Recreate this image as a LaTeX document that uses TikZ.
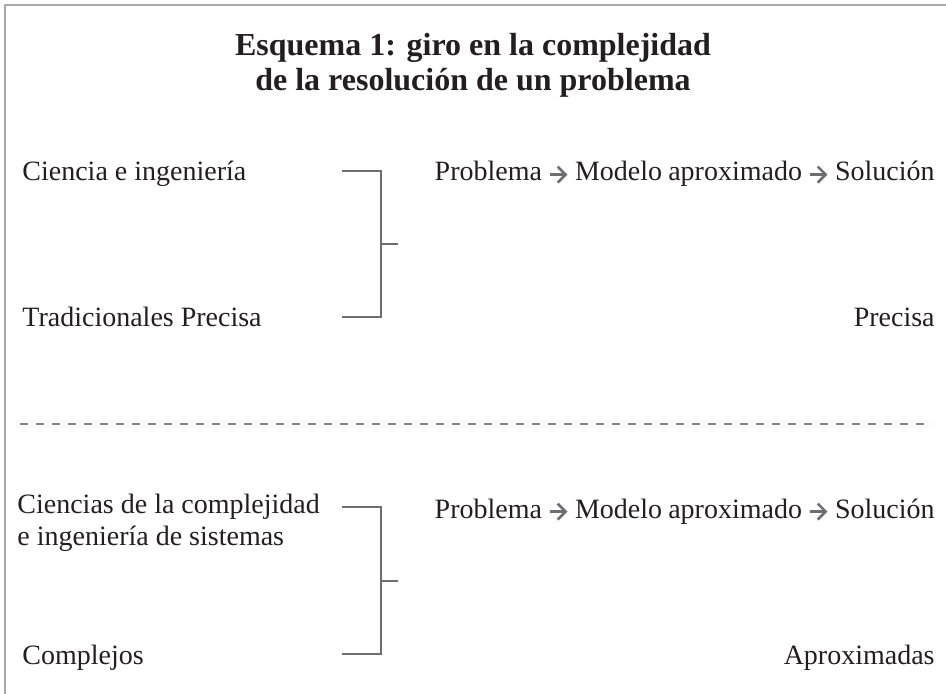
\documentclass[tikz,border=0pt]{standalone}
\usepackage{fontspec}
\setmainfont{Liberation Serif}
\usetikzlibrary{arrows.meta}

\definecolor{framegray}{HTML}{A7A9AC}
\definecolor{bracketgray}{HTML}{6D6E71}
\definecolor{inkblack}{HTML}{231F20}

\newcommand{\tightspace}{\spaceskip=3.1pt plus 1pt minus 0.5pt\relax}

\tikzset{
	label text/.style={anchor=base west, inner sep=0pt, text=inkblack,
		font=\fontsize{14}{16}\selectfont},
	right text/.style={label text, anchor=base east},
	chain text/.style={right text, font=\fontsize{14}{16}\selectfont\tightspace},
	title text/.style={anchor=base, inner sep=0pt, text=inkblack,
		font=\fontsize{16}{19}\selectfont\bfseries},
	bracket line/.style={draw=bracketgray, line width=1pt},
	divider/.style={draw=bracketgray!85, line width=1pt, dash pattern=on 4pt off 4pt}
}
% small gray arrow used inside the text
\newcommand{\grayarrow}{\tikz[baseline=-3.2pt]\draw [bracketgray, line width=1.3pt,
	-{Straight Barb[length=4pt, width=8pt, line width=1.3pt]}] (0pt,0pt) -- (9pt,0pt);}

\begin{document}
\begin{tikzpicture}[x=0.5pt, y=-0.5pt]
	\useasboundingbox (0,0) rectangle (946,694);
	% frame (top and left only)
	\draw [framegray, line width=1pt] (4.5,694) -- (4.5,5.5) -- (946,5.5);

	\node [title text] (title1) at (473,56) {Esquema 1: giro en la complejidad};
	\node [title text] (title2) at (473,91) {de la resolución de un problema};

	% traditional science
	\node [label text] (ciencia) at (22,181) {Ciencia e ingeniería};
	\node [label text] (tradicional) at (22,327) {Tradicionales Precisa};
	\node [chain text] (proceso1) at (935,181) {Problema \grayarrow{} Modelo aproximado \grayarrow{} Solución};
	\node [right text] (precisa) at (935,327) {Precisa};

	% divider
	\coordinate (divleft) at (20,424);
	\coordinate (divright) at (932,424);
	\draw [divider] (divleft) -- (divright);

	% complexity science
	\node [label text] (complejidad) at (17,513) {Ciencias de la complejidad};
	\node [label text] (sistemas) at (17,545) {e ingeniería de sistemas};
	\node [label text] (complejos) at (22,664) {Complejos};
	\node [chain text] (proceso2) at (935,518) {Problema \grayarrow{} Modelo aproximado \grayarrow{} Solución};
	\node [right text] (aproximadas) at (935,664) {Aproximadas};

	% brackets
	\foreach \top/\bot [count=\i] in {171/317, 507/654} {
		\coordinate (b\i a) at (342,\top);
		\coordinate (b\i b) at (381,\top);
		\coordinate (b\i c) at (381,\bot);
		\coordinate (b\i d) at (342,\bot);
		\coordinate (b\i m) at (381,{(\top+\bot)/2});
		\coordinate (b\i t) at (398,{(\top+\bot)/2});
		\draw [bracket line] (b\i a) -- (b\i b) -- (b\i c) -- (b\i d);
		\draw [bracket line] (b\i m) -- (b\i t);
	}
\end{tikzpicture}
\end{document}
